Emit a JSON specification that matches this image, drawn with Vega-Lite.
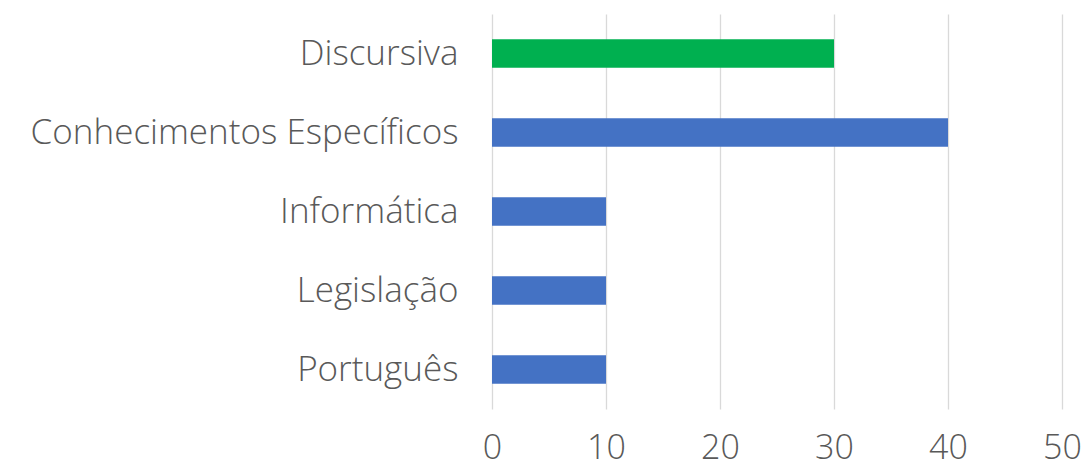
{
  "$schema": "https://vega.github.io/schema/vega-lite/v6.json",
  "autosize": {"type": "none"},
  "width": 570,
  "height": 395,
  "padding": {"left": 492, "top": 14, "right": 24, "bottom": 59},
  "background": "white",
  "config": {"view": {"stroke": null}, "font": "Open Sans"},
  "data": {"values": [
    {"categoria": "Discursiva", "valor": 30, "tipo": "discursiva"},
    {"categoria": "Conhecimentos Específicos", "valor": 40, "tipo": "objetiva"},
    {"categoria": "Informática", "valor": 10, "tipo": "objetiva"},
    {"categoria": "Legislação", "valor": 10, "tipo": "objetiva"},
    {"categoria": "Português", "valor": 10, "tipo": "objetiva"}
  ]},
  "mark": {"type": "bar"},
  "encoding": {
    "y": {
      "field": "categoria", "type": "nominal", "sort": null,
      "scale": {"paddingInner": 0.64, "paddingOuter": 0.32},
      "axis": {"title": null, "domain": false, "ticks": false, "labelFontSize": 35, "labelFontWeight": 300, "labelColor": "#595959", "labelPadding": 34, "labelFont": "Open Sans", "labelLimit": 600}
    },
    "x": {
      "field": "valor", "type": "quantitative",
      "scale": {"domain": [0, 50]},
      "axis": {"title": null, "values": [0, 10, 20, 30, 40, 50], "domain": false, "ticks": false, "grid": true, "gridColor": "#D9D9D9", "gridWidth": 1.3, "labelFontSize": 34, "labelFontWeight": 300, "labelColor": "#595959", "labelPadding": 22, "labelFont": "Open Sans", "labelFlush": false}
    },
    "color": {
      "field": "tipo", "type": "nominal",
      "scale": {"domain": ["discursiva", "objetiva"], "range": ["#00B050", "#4472C4"]},
      "legend": null
    }
  }
}
